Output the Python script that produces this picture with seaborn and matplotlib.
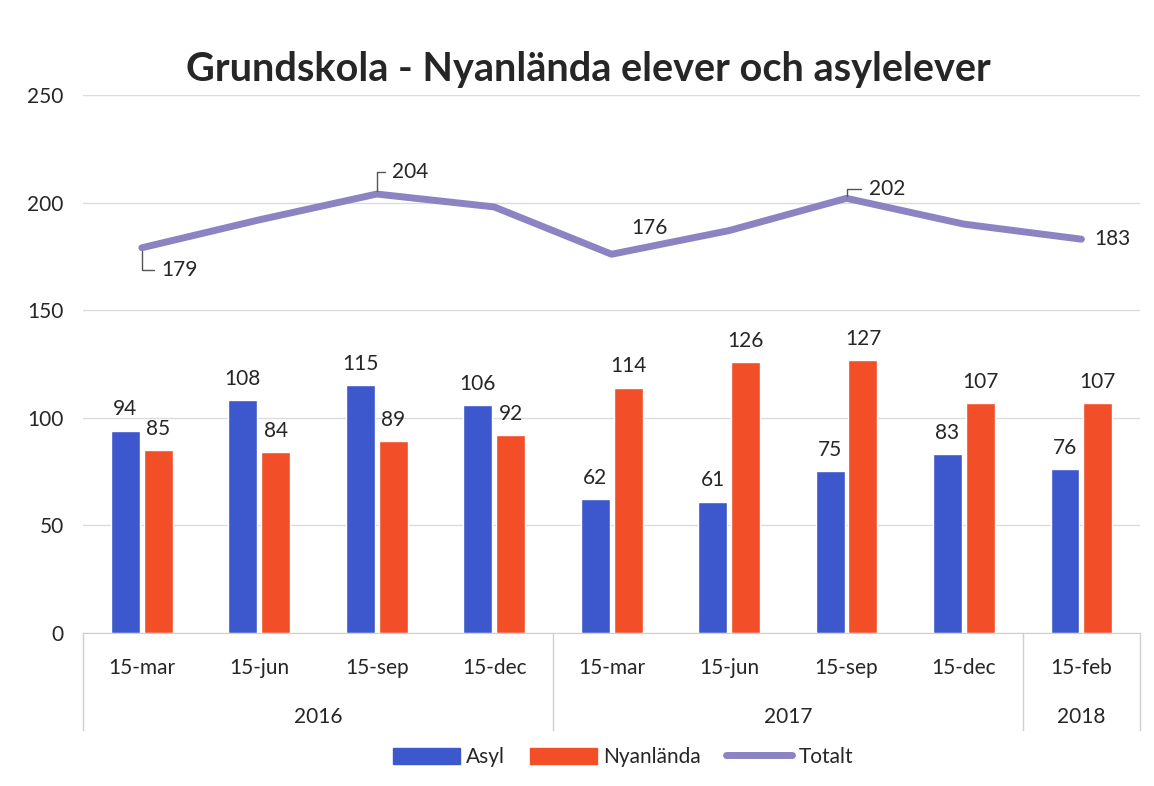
import numpy as np
import pandas as pd
import matplotlib
matplotlib.use("Agg")
import matplotlib.pyplot as plt
import seaborn as sns
from matplotlib.lines import Line2D
from matplotlib.patches import Patch

# data
datum = ['15-mar', '15-jun', '15-sep', '15-dec', '15-mar', '15-jun', '15-sep', '15-dec', '15-feb']
ar = ['2016', '2016', '2016', '2016', '2017', '2017', '2017', '2017', '2018']
asyl = [94, 108, 115, 106, 62, 61, 75, 83, 76]
nyanlanda = [85, 84, 89, 92, 114, 126, 127, 107, 107]
totalt = [179, 192, 204, 198, 176, 187, 202, 190, 183]
totalt_visa = [True, False, True, False, True, False, True, False, True]

blue = '#3d57cc'
orange = '#f24e28'
purple = '#8c84c2'

sns.set_style('white')
plt.rcParams['font.family'] = ['Lato', 'DejaVu Sans']

n = len(datum)
df = pd.DataFrame({'pos': list(range(n)) * 2,
                   'serie': ['Asyl'] * n + ['Nyanlända'] * n,
                   'antal': asyl + nyanlanda})

fig = plt.figure(figsize=(11.54, 7.86), dpi=100)
ax = fig.add_axes([0.072, 0.195, 0.916, 0.684])

sns.barplot(data=df, x='pos', y='antal', hue='serie', palette=[blue, orange],
            saturation=1, width=0.56, gap=0.12, legend=False, ax=ax)
sns.lineplot(x=np.arange(n), y=totalt, color=purple, linewidth=5, ax=ax)

ax.set_ylim(0, 250)
ax.set_xlim(-0.5, n - 0.5)
ax.set_yticks([0, 50, 100, 150, 200, 250])
ax.yaxis.grid(True, color='#dcdcdc', linewidth=1)
ax.set_axisbelow(True)
for s in ['left', 'right', 'top']:
    ax.spines[s].set_visible(False)
ax.spines['bottom'].set_color('#cfcfcf')
ax.tick_params(axis='y', labelsize=15, length=0, pad=14)
ax.set_xticks(range(n))
ax.set_xticklabels(datum, fontsize=15)
ax.tick_params(axis='x', length=0, pad=18)
ax.set_xlabel('')
ax.set_ylabel('')

# bar labels
for cont, vals in zip(ax.containers, [asyl, nyanlanda]):
    ax.bar_label(cont, labels=[str(v) for v in vals], padding=8, fontsize=15)

# line labels (with small leader lines like the original)
offs = {0: (14, -16, 'left', True), 2: (11, 16, 'left', True), 4: (27, 19, 'center', False),
        6: (16, 7, 'left', True), 8: (9, 0, 'left', False)}
for i, v in enumerate(totalt):
    if not totalt_visa[i]:
        continue
    dx, dy, ha, leader = offs[i]
    ap = None
    if leader:
        ap = dict(arrowstyle='-', color='#555555', lw=1, shrinkA=3, shrinkB=2,
                  connectionstyle='angle,angleA=0,angleB=90,rad=0')
    ax.annotate(str(v), (i, v), xytext=(dx, dy), textcoords='offset points',
                ha=ha, va='center', fontsize=15, arrowprops=ap)

# year level of the axis
tr = ax.get_xaxis_transform()
for x in [-0.5, 3.5, 7.5, 8.5]:
    ax.plot([x, x], [0, -0.18], transform=tr, color='#d0d0d0', lw=1, clip_on=False)
for txt, x in [('2016', 1.5), ('2017', 5.5), ('2018', 8)]:
    ax.text(x, -0.156, txt, transform=tr, ha='center', va='center', fontsize=15)

fig.text(0.51, 0.912, 'Grundskola - Nyanlända elever och asylelever',
         ha='center', va='center', fontsize=28.5, fontweight='bold')

handles = [Patch(color=blue, label='Asyl'), Patch(color=orange, label='Nyanlända'),
           Line2D([], [], color=purple, lw=5, label='Totalt')]
fig.legend(handles=handles, loc='center', bbox_to_anchor=(0.54, 0.037), ncol=3,
           frameon=False, fontsize=15, handlelength=3.2, handleheight=0.8,
           columnspacing=1.2, handletextpad=0.3)

fig.savefig('out.png', dpi=100)
